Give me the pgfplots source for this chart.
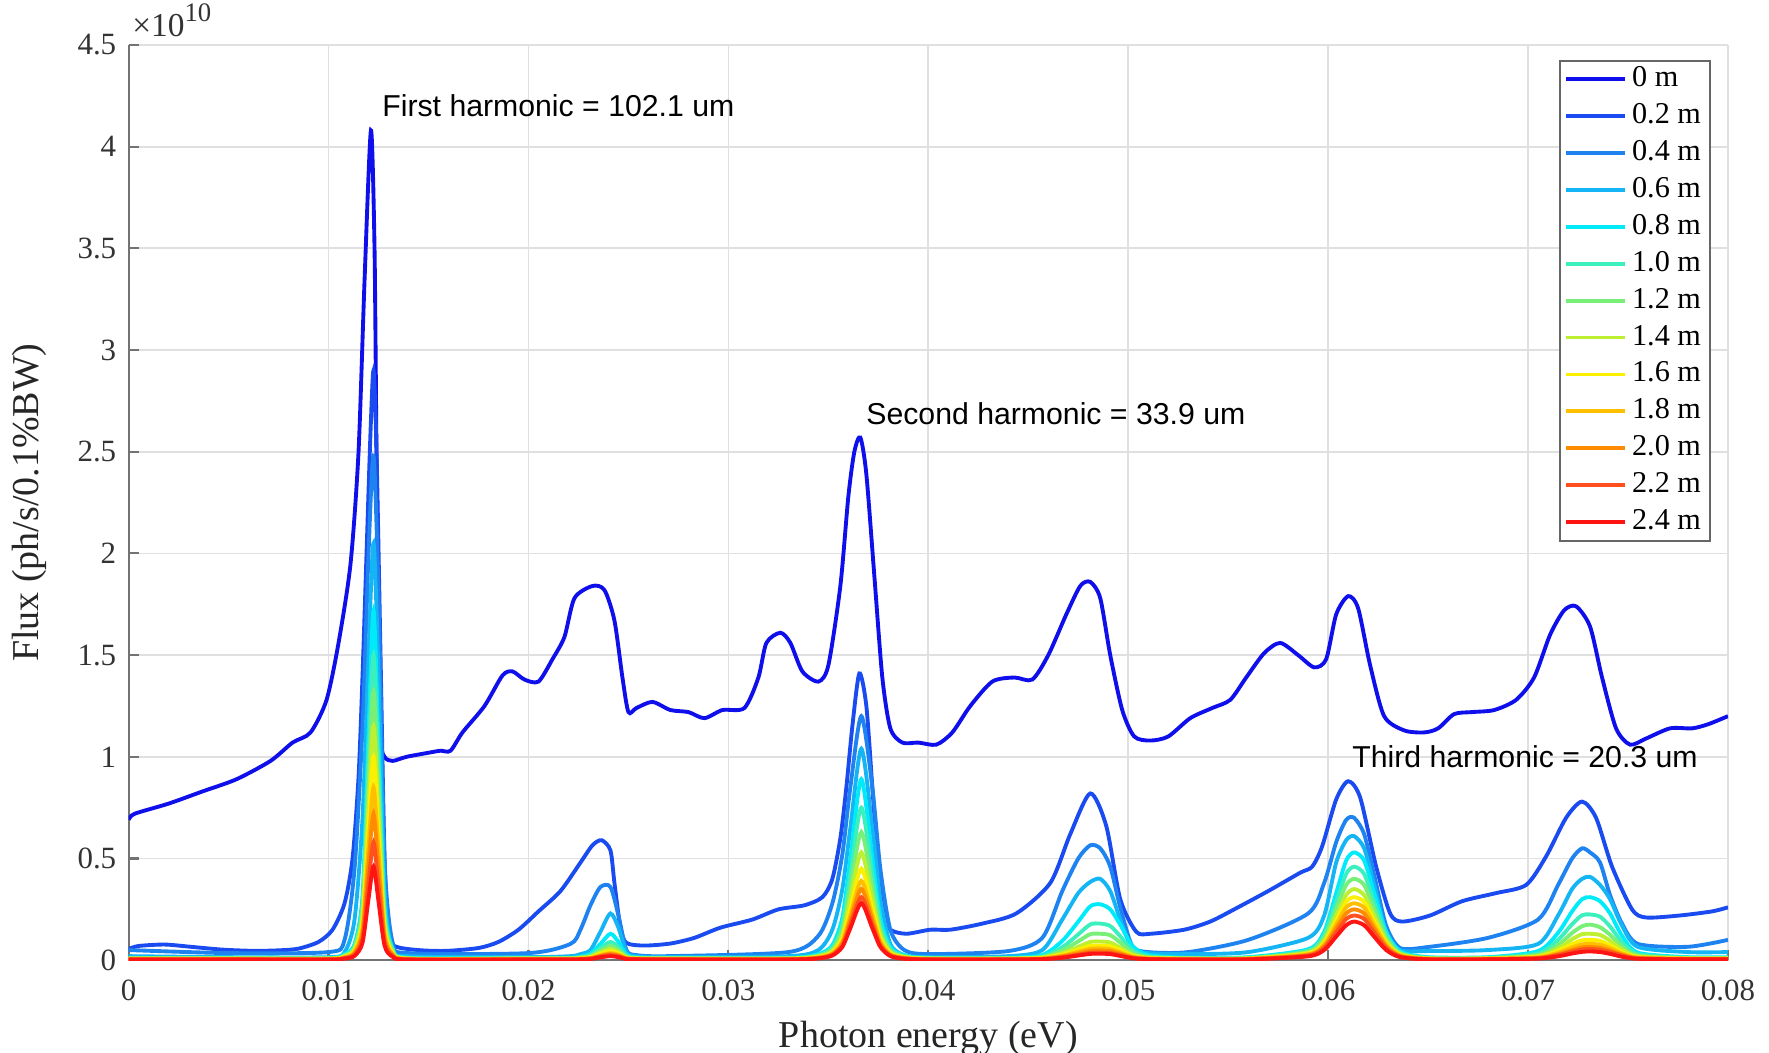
\documentclass[border=0pt]{standalone}
\usepackage{fontspec}
\setmainfont{Liberation Serif}
\newfontfamily\arial{Liberation Sans}
\usepackage{pgfplots}
\usepackage{pgfplotstable}
\pgfplotsset{compat=1.18}

% flux in units of 1e10 ph/s/0.1%BW, columns a..k = 0.4 m ... 2.4 m
\pgfplotstableread{
x a b c d e f g h i j k
0.0000 0.050 0.020 0.012 0.010 0.009 0.008 0.007 0.006 0.005 0.004 0.003
0.0050 0.035 0.015 0.012 0.010 0.009 0.008 0.007 0.006 0.005 0.004 0.003
0.0100 0.040 0.015 0.012 0.010 0.009 0.008 0.007 0.006 0.005 0.004 0.003
0.0108 0.100 0.040 0.030 0.025 0.022 0.020 0.017 0.015 0.012 0.010 0.008
0.0113 0.450 0.200 0.080 0.070 0.062 0.054 0.047 0.040 0.034 0.027 0.021
0.0117 1.150 0.700 0.320 0.280 0.247 0.215 0.187 0.159 0.135 0.108 0.086
0.0120 2.000 1.500 1.120 0.985 0.870 0.755 0.657 0.558 0.473 0.381 0.302
0.01225 2.480 2.050 1.720 1.500 1.320 1.150 1.000 0.850 0.720 0.580 0.460
0.0125 1.800 1.400 1.070 0.940 0.830 0.720 0.627 0.533 0.451 0.364 0.288
0.0128 0.500 0.350 0.270 0.235 0.210 0.180 0.157 0.134 0.113 0.091 0.072
0.0132 0.090 0.050 0.060 0.055 0.048 0.042 0.037 0.032 0.027 0.021 0.017
0.0140 0.035 0.020 0.012 0.010 0.009 0.008 0.007 0.006 0.005 0.004 0.003
0.0200 0.035 0.015 0.012 0.010 0.009 0.008 0.007 0.006 0.005 0.004 0.003
0.0221 0.080 0.020 0.012 0.010 0.009 0.008 0.007 0.006 0.005 0.004 0.003
0.0226 0.150 0.030 0.018 0.015 0.013 0.011 0.009 0.008 0.007 0.005 0.004
0.0231 0.270 0.050 0.032 0.024 0.020 0.016 0.014 0.011 0.009 0.008 0.006
0.0236 0.360 0.140 0.080 0.060 0.047 0.038 0.032 0.025 0.021 0.018 0.014
0.0241 0.360 0.230 0.130 0.090 0.070 0.055 0.045 0.035 0.030 0.025 0.020
0.0245 0.220 0.160 0.090 0.064 0.050 0.040 0.034 0.027 0.023 0.019 0.015
0.0249 0.050 0.040 0.028 0.021 0.017 0.014 0.012 0.010 0.009 0.007 0.005
0.0254 0.025 0.020 0.014 0.012 0.010 0.009 0.008 0.007 0.006 0.005 0.004
0.0270 0.020 0.015 0.012 0.010 0.009 0.008 0.007 0.006 0.005 0.004 0.003
0.0330 0.040 0.020 0.012 0.010 0.009 0.008 0.007 0.006 0.005 0.004 0.003
0.0345 0.120 0.050 0.030 0.025 0.022 0.019 0.016 0.014 0.012 0.010 0.009
0.0352 0.280 0.150 0.074 0.062 0.053 0.045 0.038 0.033 0.030 0.026 0.023
0.0357 0.520 0.350 0.210 0.175 0.148 0.125 0.106 0.092 0.082 0.072 0.065
0.0361 0.850 0.650 0.500 0.420 0.355 0.300 0.255 0.220 0.198 0.175 0.157
0.03665 1.200 1.040 0.890 0.750 0.630 0.530 0.450 0.390 0.350 0.310 0.280
0.0372 0.850 0.650 0.500 0.420 0.355 0.300 0.255 0.220 0.198 0.175 0.157
0.0376 0.450 0.300 0.210 0.175 0.148 0.125 0.106 0.092 0.082 0.072 0.065
0.0381 0.150 0.080 0.065 0.055 0.047 0.040 0.034 0.029 0.026 0.023 0.020
0.0388 0.050 0.025 0.025 0.021 0.018 0.016 0.014 0.012 0.010 0.009 0.007
0.0400 0.030 0.015 0.012 0.010 0.009 0.008 0.007 0.006 0.005 0.004 0.003
0.0440 0.045 0.020 0.012 0.010 0.009 0.008 0.007 0.006 0.005 0.004 0.003
0.0457 0.110 0.050 0.026 0.019 0.015 0.013 0.011 0.009 0.007 0.006 0.005
0.0467 0.340 0.200 0.095 0.064 0.048 0.035 0.028 0.022 0.019 0.015 0.012
0.0475 0.500 0.330 0.190 0.127 0.093 0.066 0.052 0.042 0.034 0.027 0.023
0.0481 0.565 0.385 0.265 0.176 0.128 0.090 0.071 0.056 0.046 0.036 0.031
0.0486 0.550 0.400 0.275 0.180 0.130 0.092 0.072 0.058 0.047 0.037 0.032
0.0491 0.460 0.340 0.250 0.168 0.123 0.087 0.068 0.054 0.045 0.035 0.030
0.0496 0.260 0.200 0.175 0.118 0.087 0.062 0.050 0.039 0.032 0.025 0.021
0.0502 0.070 0.060 0.072 0.050 0.038 0.028 0.022 0.018 0.015 0.012 0.010
0.0510 0.040 0.035 0.026 0.019 0.015 0.012 0.010 0.009 0.007 0.006 0.005
0.0530 0.040 0.030 0.012 0.010 0.009 0.008 0.007 0.006 0.005 0.004 0.003
0.0560 0.100 0.040 0.015 0.012 0.010 0.009 0.008 0.007 0.006 0.005 0.004
0.0590 0.230 0.110 0.054 0.047 0.042 0.037 0.033 0.029 0.026 0.023 0.019
0.0598 0.380 0.220 0.140 0.125 0.110 0.096 0.085 0.077 0.068 0.060 0.050
0.0604 0.580 0.480 0.330 0.286 0.250 0.219 0.194 0.175 0.156 0.137 0.116
0.0609 0.690 0.590 0.490 0.424 0.370 0.320 0.287 0.259 0.230 0.203 0.172
0.0613 0.700 0.610 0.530 0.460 0.400 0.350 0.310 0.280 0.250 0.220 0.190
0.0618 0.620 0.550 0.490 0.424 0.370 0.320 0.287 0.259 0.230 0.203 0.172
0.0623 0.420 0.370 0.330 0.286 0.250 0.219 0.194 0.175 0.156 0.137 0.116
0.0629 0.170 0.140 0.140 0.125 0.110 0.096 0.085 0.077 0.068 0.060 0.050
0.0636 0.060 0.050 0.044 0.038 0.034 0.030 0.027 0.024 0.021 0.018 0.015
0.0650 0.065 0.045 0.015 0.012 0.010 0.009 0.008 0.007 0.006 0.005 0.004
0.0680 0.110 0.050 0.015 0.012 0.010 0.009 0.008 0.007 0.006 0.005 0.004
0.0705 0.200 0.080 0.045 0.034 0.026 0.021 0.017 0.014 0.012 0.010 0.008
0.0715 0.370 0.220 0.135 0.100 0.075 0.058 0.046 0.037 0.030 0.025 0.019
0.0722 0.500 0.350 0.240 0.177 0.134 0.103 0.079 0.063 0.050 0.042 0.033
0.0727 0.550 0.400 0.300 0.221 0.167 0.128 0.098 0.078 0.063 0.053 0.041
0.0731 0.530 0.410 0.310 0.225 0.175 0.130 0.100 0.080 0.065 0.055 0.043
0.0736 0.480 0.370 0.290 0.214 0.162 0.124 0.095 0.076 0.061 0.051 0.040
0.0741 0.320 0.300 0.230 0.166 0.125 0.096 0.074 0.060 0.048 0.040 0.031
0.0747 0.180 0.170 0.120 0.089 0.068 0.053 0.041 0.033 0.027 0.023 0.017
0.0755 0.080 0.065 0.037 0.030 0.023 0.019 0.015 0.013 0.011 0.009 0.007
0.0780 0.066 0.040 0.015 0.012 0.010 0.009 0.008 0.007 0.006 0.005 0.004
0.0800 0.100 0.040 0.015 0.012 0.010 0.009 0.008 0.007 0.006 0.005 0.004
}\lowdata

\definecolor{c0}{RGB}{15,15,235}
\definecolor{c1}{RGB}{25,75,240}
\definecolor{c2}{RGB}{30,130,240}
\definecolor{c3}{RGB}{20,180,245}
\definecolor{c4}{RGB}{0,235,250}
\definecolor{c5}{RGB}{60,240,190}
\definecolor{c6}{RGB}{120,240,120}
\definecolor{c7}{RGB}{190,240,50}
\definecolor{c8}{RGB}{250,240,0}
\definecolor{c9}{RGB}{255,190,0}
\definecolor{c10}{RGB}{255,140,0}
\definecolor{c11}{RGB}{255,80,30}
\definecolor{c12}{RGB}{255,20,20}

\begin{document}
\begin{tikzpicture}
\begin{axis}[
    width=15.99cm, height=9.15cm, scale only axis,
    xmin=0, xmax=0.08, ymin=0, ymax=4.5,
    xtick={0,0.01,0.02,0.03,0.04,0.05,0.06,0.07,0.08},
    ytick={0,0.5,1,1.5,2,2.5,3,3.5,4,4.5},
    scaled x ticks=false, scaled y ticks=false,
    xticklabel style={/pgf/number format/fixed, /pgf/number format/precision=2, yshift=-0.07cm},
    /pgf/number format/assume math mode=true,
    tick label style={font=\fontsize{8.8}{10}\selectfont, text=black!80},
    axis x line*=bottom, axis y line*=left,
    axis line style={black!55, line width=0.6pt},
    tick align=inside, major tick length=0.1cm,
    tick style={black!55, line width=0.6pt},
    grid=major, major grid style={black!12, line width=0.5pt},
    xlabel={Photon energy (eV)}, ylabel={Flux (ph/s/0.1\%BW)},
    label style={font=\fontsize{10.8}{12}\selectfont, text=black!85},
    xlabel style={yshift=0.04cm},
    ylabel style={yshift=0.066cm},
    every axis plot/.append style={line width=1.1pt, smooth, tension=0.45},
    legend style={at={(rel axis cs:0.9894,0.984)}, anchor=north east,
        draw=black!60, line width=0.6pt, font=\fontsize{8.6}{9}\selectfont,
        inner xsep=0.04cm, inner ysep=0.06cm, row sep=0.119cm, fill=white,
        nodes={inner xsep=0.05cm, inner ysep=0pt, text height=0.2cm, text depth=0.05cm}},
    legend cell align=left,
    legend image code/.code={\draw[#1, line width=1.1pt] (0cm,0cm) -- (0.59cm,0cm);},
    clip mode=individual,
]
\addplot[c0] coordinates {
(0,0.69)(0.0003,0.72)(0.0020,0.77)(0.0037,0.83)(0.0054,0.89)(0.0071,0.98)(0.0082,1.07)(0.0091,1.12)
(0.0099,1.28)(0.0105,1.56)(0.0111,1.95)(0.0115,2.50)(0.0118,3.34)(0.01212,4.08)(0.0123,3.50)(0.0124,2.48)
(0.0125,1.70)(0.01257,1.10)(0.0128,1.00)(0.0132,0.98)(0.0139,1.00)(0.0150,1.02)(0.0156,1.03)(0.0161,1.03)
(0.0167,1.12)(0.0178,1.25)(0.0187,1.40)(0.0192,1.42)(0.0198,1.38)(0.0205,1.37)(0.0212,1.48)(0.0218,1.59)
(0.0223,1.78)(0.0232,1.84)(0.0238,1.82)(0.0243,1.67)(0.0247,1.39)(0.0250,1.22)(0.0254,1.24)(0.0262,1.27)
(0.0271,1.23)(0.0280,1.22)(0.0288,1.19)(0.0297,1.23)(0.0308,1.24)(0.0315,1.39)(0.0319,1.56)(0.0326,1.61)
(0.0331,1.56)(0.0337,1.42)(0.0345,1.37)(0.0350,1.45)(0.0356,1.84)(0.0360,2.28)(0.0363,2.50)(0.0366,2.57)
(0.0369,2.39)(0.0373,1.89)(0.0377,1.39)(0.0381,1.14)(0.0387,1.07)(0.0395,1.07)(0.0404,1.06)(0.0412,1.12)
(0.0421,1.25)(0.0432,1.37)(0.0443,1.39)(0.0452,1.38)(0.0460,1.50)(0.0469,1.70)(0.0476,1.84)(0.0481,1.86)
(0.0486,1.78)(0.0491,1.50)(0.0497,1.23)(0.0503,1.10)(0.0511,1.08)(0.0520,1.10)(0.0531,1.19)(0.0542,1.24)
(0.0551,1.28)(0.0559,1.39)(0.0568,1.51)(0.0576,1.56)(0.0585,1.50)(0.0593,1.44)(0.0599,1.48)(0.0604,1.70)
(0.0610,1.79)(0.0615,1.73)(0.0621,1.45)(0.0628,1.20)(0.0638,1.13)(0.0648,1.12)(0.0655,1.14)(0.0663,1.21)
(0.0672,1.22)(0.0683,1.23)(0.0694,1.28)(0.0703,1.39)(0.0711,1.60)(0.0718,1.72)(0.0724,1.74)(0.0731,1.64)
(0.0737,1.39)(0.0744,1.14)(0.0751,1.06)(0.0759,1.09)(0.0771,1.14)(0.0782,1.14)(0.0790,1.16)(0.0800,1.20)
};
\addlegendentry{0 m}
\addplot[c1] coordinates {
(0,0.055)(0.0005,0.07)(0.0018,0.077)(0.0031,0.066)(0.0047,0.052)(0.0063,0.046)(0.0076,0.049)(0.0085,0.057)
(0.0095,0.09)(0.0102,0.15)(0.0108,0.28)(0.0112,0.5)(0.0115,0.9)(0.0117,1.4)(0.0119,2.0)(0.0121,2.6)
(0.01225,2.9)(0.0124,2.5)(0.0126,1.5)(0.0128,0.5)(0.0130,0.12)(0.0134,0.066)(0.0146,0.049)(0.0159,0.046)
(0.0175,0.06)(0.0185,0.09)(0.0195,0.15)(0.0205,0.24)(0.0216,0.34)(0.0226,0.48)(0.0232,0.565)(0.02366,0.59)
(0.0241,0.54)(0.0243,0.38)(0.0246,0.16)(0.0249,0.085)(0.0258,0.072)(0.0271,0.082)(0.0283,0.11)(0.0296,0.16)
(0.0312,0.20)(0.0325,0.25)(0.0338,0.27)(0.0347,0.31)(0.0352,0.40)(0.0356,0.60)(0.0359,0.85)(0.0362,1.15)
(0.03655,1.41)(0.0369,1.25)(0.0372,0.85)(0.0375,0.45)(0.0378,0.22)(0.0381,0.15)(0.0389,0.13)(0.0401,0.15)
(0.0411,0.15)(0.0427,0.18)(0.0444,0.23)(0.0461,0.38)(0.0471,0.62)(0.0481,0.82)(0.0489,0.66)(0.0496,0.30)
(0.0504,0.14)(0.0511,0.13)(0.0528,0.15)(0.0541,0.19)(0.0553,0.25)(0.0570,0.34)(0.0586,0.43)(0.0592,0.46)
(0.0597,0.56)(0.0604,0.79)(0.0610,0.88)(0.0616,0.80)(0.0624,0.46)(0.0631,0.23)(0.0637,0.19)(0.0651,0.22)
(0.0667,0.29)(0.0684,0.33)(0.0699,0.37)(0.0709,0.51)(0.0719,0.70)(0.0727,0.78)(0.0734,0.70)(0.0742,0.46)
(0.0752,0.25)(0.0759,0.21)(0.0776,0.22)(0.0792,0.24)(0.0800,0.26)
};
\addlegendentry{0.2 m}
\addplot[c2] table[x=x, y=a] {\lowdata}; \addlegendentry{0.4 m}
\addplot[c3] table[x=x, y=b] {\lowdata}; \addlegendentry{0.6 m}
\addplot[c4] table[x=x, y=c] {\lowdata}; \addlegendentry{0.8 m}
\addplot[c5] table[x=x, y=d] {\lowdata}; \addlegendentry{1.0 m}
\addplot[c6] table[x=x, y=e] {\lowdata}; \addlegendentry{1.2 m}
\addplot[c7] table[x=x, y=f] {\lowdata}; \addlegendentry{1.4 m}
\addplot[c8] table[x=x, y=g] {\lowdata}; \addlegendentry{1.6 m}
\addplot[c9] table[x=x, y=h] {\lowdata}; \addlegendentry{1.8 m}
\addplot[c10] table[x=x, y=i] {\lowdata}; \addlegendentry{2.0 m}
\addplot[c11] table[x=x, y=j] {\lowdata}; \addlegendentry{2.2 m}
\addplot[c12] table[x=x, y=k] {\lowdata}; \addlegendentry{2.4 m}

\node[anchor=west, font=\arial\fontsize{8.6}{10}\selectfont] at (axis cs:0.01207,4.20) {First harmonic = 102.1 um};
\node[anchor=west, font=\arial\fontsize{8.6}{10}\selectfont] at (axis cs:0.03628,2.686) {Second harmonic = 33.9 um};
\node[anchor=west, font=\arial\fontsize{8.6}{10}\selectfont] at (axis cs:0.06059,0.999) {Third harmonic = 20.3 um};
\node[anchor=base west, inner sep=0pt, text=black!80]
    at ([shift={(0.03cm,0.08cm)}]rel axis cs:0,1)
    {\fontsize{9.5}{10}\selectfont ×10\raisebox{4.5pt}{\fontsize{7.6}{8}\selectfont 10}};
\coordinate (bl) at (rel axis cs:0,0);
\coordinate (tr) at (rel axis cs:1,1);
\end{axis}
\pgfresetboundingbox
\path ([shift={(-1.286cm,-0.92cm)}]bl) rectangle ([shift={(0.41cm,0.45cm)}]tr);
\end{tikzpicture}
\end{document}
